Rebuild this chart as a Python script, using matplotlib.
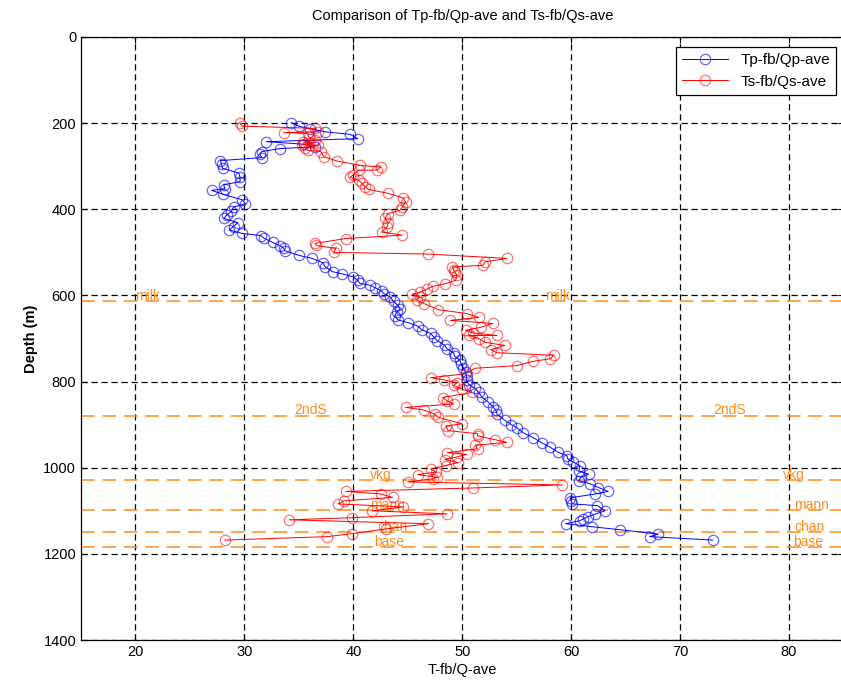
import matplotlib
matplotlib.use("Agg")
import matplotlib.pyplot as plt

plt.rcParams["font.family"] = ["Liberation Sans", "DejaVu Sans"]

# Tp-fb/Qp-ave (blue)
p_depth = [199, 207, 213, 220, 226, 236, 243, 249, 255, 259, 266, 272, 280, 287, 296, 305,
           316, 326, 336, 343, 352, 356, 365, 378, 387, 395, 405, 413, 421, 431, 440, 448,
           456, 461, 467, 477, 485, 490, 496, 507, 514, 524, 533, 545, 550, 557, 565, 572,
           576, 582, 590, 596, 604, 614, 623, 631, 639, 647, 657, 663, 671, 680, 688, 697,
           705, 716, 724, 733, 741, 751, 760, 768, 778, 788, 797, 807, 816, 825, 836, 848,
           858, 867, 876, 890, 900, 907, 919, 930, 942, 953, 964, 972, 980, 987, 995, 1007,
           1015, 1022, 1030, 1037, 1046, 1055, 1061, 1070, 1078, 1084, 1088, 1100, 1108, 1114,
           1119, 1123, 1130, 1137, 1144, 1154, 1160, 1168]
p_val = [34.3, 35.0, 36.0, 37.4, 39.7, 40.4, 32.0, 35.5, 36.5, 33.3, 31.6, 31.4, 31.6, 27.8, 27.9, 28.0,
         29.5, 29.6, 29.6, 28.1, 28.2, 27.0, 28.0, 29.8, 30.1, 29.0, 28.8, 28.4, 28.1, 29.4, 29.0, 28.6,
         29.8, 31.5, 31.8, 32.6, 33.3, 33.6, 33.7, 35.0, 36.2, 37.2, 37.4, 38.1, 39.0, 40.0, 40.4, 40.6,
         41.5, 42.0, 42.6, 42.8, 43.4, 43.7, 44.1, 44.3, 44.0, 43.8, 44.1, 45.0, 45.9, 46.3, 47.1, 47.4,
         47.7, 48.4, 48.6, 49.2, 49.3, 49.8, 49.9, 50.1, 50.3, 50.4, 50.4, 50.6, 51.2, 51.5, 51.8, 52.4,
         52.8, 53.1, 53.2, 53.9, 54.5, 55.0, 55.6, 56.5, 57.3, 58.1, 58.8, 59.6, 59.7, 60.2, 60.8, 60.7,
         61.6, 60.9, 60.7, 61.7, 62.5, 63.4, 62.2, 59.9, 60.0, 60.1, 62.4, 63.1, 62.2, 61.5,
         61.1, 60.8, 59.5, 61.9, 64.5, 68.0, 67.2, 73.0]

# Ts-fb/Qs-ave (red)
s_depth = [200, 207, 212, 220, 222, 224, 232, 240, 244, 246, 250, 251, 258, 263, 266, 278,
           288, 298, 302, 309, 309, 320, 326, 333, 340, 348, 354, 363, 374, 383, 394, 402,
           410, 421, 433, 441, 453, 460, 468, 479, 484, 491, 500, 504, 514, 522, 530, 534,
           540, 545, 553, 565, 573, 579, 585, 593, 597, 604, 610, 619, 633, 642, 651, 658,
           665, 674, 681, 687, 693, 693, 700, 709, 716, 726, 733, 739, 747, 753, 763, 769,
           782, 791, 796, 803, 809, 818, 825, 837, 845, 852, 860, 866, 876, 883, 898, 903,
           914, 921, 926, 935, 941, 948, 956, 965, 969, 975, 981, 988, 995, 1003, 1010, 1016,
           1022, 1026, 1033, 1040, 1047, 1055, 1061, 1069, 1077, 1084, 1091, 1100, 1107, 1116,
           1121, 1130, 1142, 1153, 1160, 1168]
s_val = [29.6, 29.8, 36.5, 36.8, 33.6, 35.8, 35.9, 36.5, 35.4, 36.3, 35.3, 36.8, 35.6, 35.8, 37.0, 37.3,
         38.5, 40.6, 42.5, 42.2, 40.5, 40.0, 39.7, 40.5, 40.8, 41.1, 41.4, 43.2, 44.6, 44.8, 44.5, 44.3,
         43.2, 42.9, 43.2, 43.1, 42.6, 44.5, 39.3, 36.5, 36.6, 38.4, 38.2, 46.9, 54.1, 52.1, 51.9, 49.1,
         49.2, 49.3, 49.5, 49.4, 48.4, 47.3, 46.8, 46.1, 45.4, 46.1, 45.8, 46.5, 47.8, 50.4, 51.5, 48.9,
         52.8, 51.7, 50.3, 51.0, 53.2, 50.6, 51.5, 52.1, 53.9, 52.6, 53.2, 58.4, 58.1, 56.5, 55.0, 51.2,
         50.3, 47.1, 48.3, 49.5, 49.2, 50.0, 50.9, 48.2, 48.6, 49.2, 44.8, 46.5, 47.5, 47.8, 50.0, 48.5,
         48.7, 51.4, 51.4, 53.0, 54.1, 51.2, 51.4, 48.6, 50.4, 49.5, 48.4, 49.6, 48.5, 47.1, 47.6, 45.9,
         47.7, 47.3, 45.0, 59.2, 51.0, 39.3, 42.5, 43.6, 39.1, 38.6, 44.6, 41.7, 48.6, 39.9,
         34.1, 46.9, 43.0, 39.9, 37.6, 28.2]

# formation tops
tops = ["milk", "2ndS", "vkg", "mann", "chan", "base"]
top_depth = [613, 879, 1029, 1098, 1150, 1185]
label_x_left = [20.0, 34.6, 41.5, 41.5, 42.2, 41.9]
label_x_right = [57.6, 73.0, 79.4, 80.5, 80.5, 80.4]

orange = "#ff8c1a"

fig = plt.figure(figsize=(8.41, 6.84), dpi=100)
ax = fig.add_axes([81 / 841, 1 - 640 / 684, (843.5 - 81) / 841, (640 - 37) / 684])

# formation lines and labels
for name, d, xl, xr in zip(tops, top_depth, label_x_left, label_x_right):
    ax.axhline(d, color=orange, lw=1.1, linestyle=(0, (9, 5)), zorder=1)
    ax.text(xl, d - 12, name, color=orange, fontsize=10, va="center", ha="left", zorder=2)
    ax.text(xr, d - 12, name, color=orange, fontsize=10, va="center", ha="left", zorder=2)

ax.plot(p_val, p_depth, color="blue", lw=0.7, marker="o", ms=7.5, mfc="none",
        mec=(0, 0, 1, 0.6), mew=0.9, label="Tp-fb/Qp-ave", zorder=3)
ax.plot(s_val, s_depth, color="red", lw=0.7, marker="o", ms=7.5, mfc="none",
        mec=(1, 0, 0, 0.55), mew=0.9, label="Ts-fb/Qs-ave", zorder=3)

ax.set_xlim(15, 85)
ax.set_ylim(1400, 0)
ax.set_xticks(range(20, 81, 10))
ax.set_yticks(range(0, 1401, 200))
ax.grid(True, color="black", linestyle=(0, (5, 3)), lw=0.9, zorder=0)
ax.set_axisbelow(True)
ax.tick_params(direction="in", top=True, right=True, labelsize=10.5, length=4)
for s in ax.spines.values():
    s.set_linewidth(0.9)

ax.set_title("Comparison of Tp-fb/Qp-ave and Ts-fb/Qs-ave", fontsize=10.5, pad=12)
ax.set_xlabel("T-fb/Q-ave", fontsize=10.5, labelpad=3)
ax.set_ylabel("Depth (m)", fontsize=10.5, fontweight="bold")

leg = ax.legend(loc="upper right", bbox_to_anchor=(836 / 841, 1 - 47 / 684),
                bbox_transform=fig.transFigure, fontsize=11, fancybox=False,
                framealpha=1, edgecolor="black", borderaxespad=0, handlelength=3)
leg.get_frame().set_linewidth(0.9)

fig.savefig("out.png", dpi=100)
